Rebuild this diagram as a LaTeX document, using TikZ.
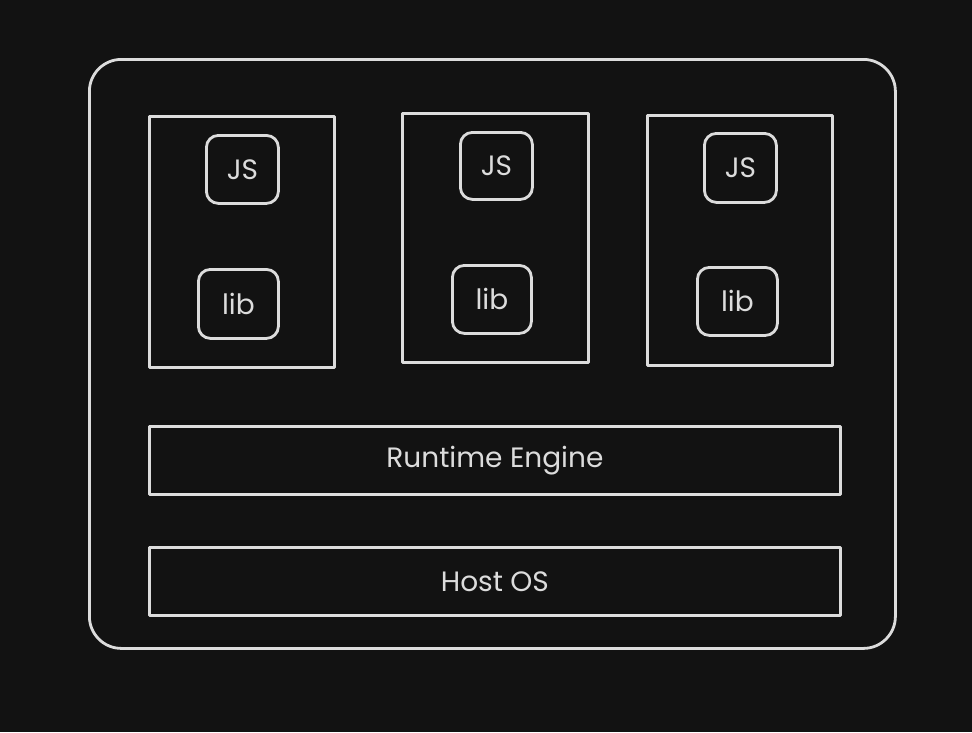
\documentclass[tikz,border=0pt]{standalone}
\usepackage{fontspec}
\setmainfont{Poppins}
\begin{document}
\begin{tikzpicture}[x=1pt,y=-1pt,
  ink/.style={draw=inkc,line width=2.8pt,line join=round},
  boxnode/.style={ink,rectangle,inner sep=0pt,anchor=north west,text=inkc},
  smallbox/.style={boxnode,rounded corners=12pt,font=\fontsize{28}{32}\selectfont},
  wide/.style={boxnode,font=\fontsize{28}{32}\selectfont}]
\definecolor{bgc}{HTML}{121212}
\definecolor{inkc}{HTML}{DCDCDC}
\fill[bgc] (0,0) rectangle (972,732);
\useasboundingbox (0,0) rectangle (972,732);
\node[boxnode,rounded corners=32pt,minimum width=806pt,minimum height=589pt] (outer) at (88,58) {};
% columns
\node[boxnode,minimum width=185pt,minimum height=251pt] (col1) at (148,115) {};
\node[boxnode,minimum width=186pt,minimum height=249pt] (col2) at (401,112) {};
\node[boxnode,minimum width=185pt,minimum height=250pt] (col3) at (646,114) {};
% JS
\node[smallbox,minimum width=72pt,minimum height=68pt] (js1) at (205,134) {JS};
\node[smallbox,minimum width=72pt,minimum height=67pt] (js2) at (459,131) {JS};
\node[smallbox,minimum width=72pt,minimum height=69pt] (js3) at (703,132) {JS};
% lib
\node[smallbox,minimum width=80pt,minimum height=69pt] (lib1) at (197,268) {lib};
\node[smallbox,minimum width=79pt,minimum height=68pt] (lib2) at (451,264) {lib};
\node[smallbox,minimum width=80pt,minimum height=68pt] (lib3) at (696,266) {lib};
% layers
\node[wide,minimum width=691pt,minimum height=68pt] (rt) at (148,425) {Runtime Engine};
\node[wide,minimum width=691pt,minimum height=68pt] (os) at (148,546) {Host OS};
\end{tikzpicture}
\end{document}
